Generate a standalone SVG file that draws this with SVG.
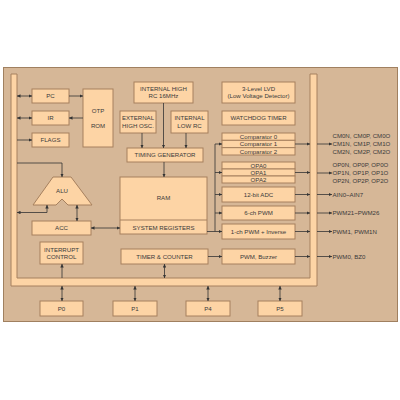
<svg xmlns="http://www.w3.org/2000/svg" width="400" height="400" viewBox="0 0 400 400">
<defs>
<marker id="ah" viewBox="0 0 6 6" markerUnits="userSpaceOnUse" markerWidth="3.5" markerHeight="3.5" refX="6" refY="3" orient="auto-start-reverse"><path d="M0,0 L6,3 L0,6 Z" fill="#333"/></marker>
<style>
.bx{fill:#fdd4a5;stroke:#a6805e;stroke-width:1}
.t{font-family:"Liberation Sans",Arial,sans-serif;font-size:6.1px;fill:#3a3a3a;text-anchor:middle}
.tl{font-family:"Liberation Sans",Arial,sans-serif;font-size:6.1px;fill:#3a3a3a;text-anchor:start}
.c{fill:none;stroke:#333;stroke-width:0.8}
.a{fill:none;stroke:#333;stroke-width:0.8;marker-end:url(#ah)}
.b{fill:none;stroke:#333;stroke-width:0.8;marker-end:url(#ah);marker-start:url(#ah)}
</style>
</defs>
<rect width="400" height="400" fill="#ffffff"/>
<rect x="3.5" y="67.5" width="394" height="254" fill="#d6b797" stroke="#a08060" stroke-width="1"/>
<path id="bus" d="M11,74 H17 V278 H310 V74 H317 V286 H11 Z" class="bx"/>

<g id="pc"><rect class="bx" x="32" y="89" width="37" height="14"/><text class="t" x="50.5" y="98.2">PC</text></g>
<g id="ir"><rect class="bx" x="32" y="111" width="37" height="14"/><text class="t" x="50.5" y="120.2">IR</text></g>
<g id="flags"><rect class="bx" x="32" y="133" width="37" height="14"/><text class="t" x="50.5" y="142.2">FLAGS</text></g>
<g id="otp"><rect class="bx" x="83" y="89" width="30" height="58"/><text class="t" x="98" y="113.2">OTP</text><text class="t" x="98" y="128.2">ROM</text></g>
<g id="alu"><path class="bx" d="M53,177 H71 L92,205 H68 L62,199 L56,205 H33 Z"/><text class="t" x="62" y="192.5">ALU</text></g>
<g id="acc"><rect class="bx" x="32" y="221" width="59" height="14"/><text class="t" x="61.5" y="230.2">ACC</text></g>
<g id="irq"><rect class="bx" x="40" y="242" width="43" height="22"/><text class="t" x="61.5" y="251.5">INTERRUPT</text><text class="t" x="61.5" y="259">CONTROL</text></g>
<g id="p0"><rect class="bx" x="40" y="301" width="43" height="15"/><text class="t" x="61.5" y="310.7">P0</text></g>
<g id="p1"><rect class="bx" x="113" y="301" width="44" height="15"/><text class="t" x="135" y="310.7">P1</text></g>
<g id="p4"><rect class="bx" x="186" y="301" width="44" height="15"/><text class="t" x="208" y="310.7">P4</text></g>
<g id="p5"><rect class="bx" x="258" y="301" width="44" height="15"/><text class="t" x="280" y="310.7">P5</text></g>
<g id="irchigh"><rect class="bx" x="134" y="82" width="59" height="21"/><text class="t" x="163.5" y="91.2">INTERNAL HIGH</text><text class="t" x="163.5" y="98.2">RC 16MHz</text></g>
<g id="extosc"><rect class="bx" x="120" y="111" width="36" height="22"/><text class="t" x="138" y="119.9">EXTERNAL</text><text class="t" x="138" y="127.9">HIGH OSC.</text></g>
<g id="irclow"><rect class="bx" x="171" y="111" width="37" height="22"/><text class="t" x="189.5" y="119.9">INTERNAL</text><text class="t" x="189.5" y="127.9">LOW RC</text></g>
<g id="timing"><rect class="bx" x="127" y="148" width="76" height="14"/><text class="t" x="165" y="157.2">TIMING GENERATOR</text></g>
<g id="ram"><rect class="bx" x="120" y="177" width="87" height="57"/><line x1="120" y1="220" x2="207" y2="220" stroke="#a6805e" stroke-width="1"/><text class="t" x="163.5" y="200.2">RAM</text><text class="t" x="163.5" y="229.7">SYSTEM REGISTERS</text></g>
<g id="timer"><rect class="bx" x="121" y="249" width="87" height="15"/><text class="t" x="164.5" y="258.7">TIMER &amp; COUNTER</text></g>
<g id="lvd"><rect class="bx" x="222" y="82" width="73" height="21"/><text class="t" x="258.5" y="90.5">3-Level LVD</text><text class="t" x="258.5" y="97.5">(Low Voltage Detector)</text></g>
<g id="wdt"><rect class="bx" x="222" y="111" width="73" height="14"/><text class="t" x="258.5" y="120.2">WATCHDOG TIMER</text></g>
<g id="cmp"><rect class="bx" x="222" y="133" width="73" height="7.33"/><rect class="bx" x="222" y="140.33" width="73" height="7.33"/><rect class="bx" x="222" y="147.67" width="73" height="7.33"/><text class="t" x="258.5" y="138.9">Comparator 0</text><text class="t" x="258.5" y="146.2">Comparator 1</text><text class="t" x="258.5" y="153.5">Comparator 2</text></g>
<g id="opa"><rect class="bx" x="222" y="162" width="73" height="7"/><rect class="bx" x="222" y="169" width="73" height="7"/><rect class="bx" x="222" y="176" width="73" height="7"/><text class="t" x="258.5" y="167.6">OPA0</text><text class="t" x="258.5" y="174.6">OPA1</text><text class="t" x="258.5" y="181.6">OPA2</text></g>
<g id="adc"><rect class="bx" x="222" y="187" width="73" height="15"/><text class="t" x="258.5" y="196.7">12-bit ADC</text></g>
<g id="pwm6"><rect class="bx" x="222" y="206" width="73" height="14"/><text class="t" x="258.5" y="215.2">6-ch PWM</text></g>
<g id="pwm1"><rect class="bx" x="222" y="224" width="73" height="15"/><text class="t" x="258.5" y="233.7">1-ch PWM + Inverse</text></g>
<g id="pwmbz"><rect class="bx" x="222" y="249" width="73" height="15"/><text class="t" x="258.5" y="258.7">PWM, Buzzer</text></g>

<g id="labels">
<text class="tl" x="332.5" y="138.2">CM0N, CM0P, CM0O</text>
<text class="tl" x="332.5" y="146.2">CM1N, CM1P, CM1O</text>
<text class="tl" x="332.5" y="154.2">CM2N, CM2P, CM2O</text>
<text class="tl" x="332.5" y="167.2">OP0N, OP0P, OP0O</text>
<text class="tl" x="332.5" y="175.2">OP1N, OP1P, OP1O</text>
<text class="tl" x="332.5" y="183.2">OP2N, OP2P, OP2O</text>
<text class="tl" x="332.5" y="196.7">AIN0~AIN7</text>
<text class="tl" x="332.5" y="215.2">PWM21~PWM26</text>
<text class="tl" x="332.5" y="233.7">PWM1, PWM1N</text>
<text class="tl" x="332.5" y="258.7">PWM0, BZ0</text>
</g>

<g id="connectors">
<line class="b" x1="17" y1="96" x2="32" y2="96"/>
<line class="b" x1="17" y1="118" x2="32" y2="118"/>
<line class="a" x1="17" y1="140" x2="32" y2="140"/>
<line class="a" x1="69" y1="96" x2="83" y2="96"/>
<line class="a" x1="83" y1="118" x2="69" y2="118"/>
<polyline class="a" points="17,163 62,163 62,177"/>
<polyline class="b" points="47,205 47,212.5 17,212.5"/>
<line class="b" x1="77" y1="205" x2="77" y2="221"/>
<line class="b" x1="91" y1="228" x2="120" y2="228"/>
<line class="a" x1="62" y1="278" x2="62" y2="264"/>
<line class="b" x1="164.5" y1="264" x2="164.5" y2="278"/>
<line class="b" x1="62" y1="286" x2="62" y2="301"/>
<line class="b" x1="135" y1="286" x2="135" y2="301"/>
<line class="b" x1="208" y1="286" x2="208" y2="301"/>
<line class="b" x1="280" y1="286" x2="280" y2="301"/>
<line class="a" x1="142" y1="133" x2="142" y2="148"/>
<line class="a" x1="163.5" y1="103" x2="163.5" y2="148"/>
<line class="a" x1="186" y1="133" x2="186" y2="148"/>
<line class="a" x1="164" y1="162" x2="164" y2="177"/>
<line class="c" x1="215" y1="144" x2="215" y2="231.5"/>
<line class="a" x1="215" y1="144" x2="222" y2="144"/>
<line class="a" x1="215" y1="172.5" x2="222" y2="172.5"/>
<line class="a" x1="215" y1="194.5" x2="222" y2="194.5"/>
<line class="a" x1="215" y1="213" x2="222" y2="213"/>
<line class="a" x1="207" y1="231.5" x2="222" y2="231.5"/>
<line class="a" x1="208" y1="256.5" x2="222" y2="256.5"/>
<line class="a" x1="295" y1="144" x2="310" y2="144"/>
<line class="a" x1="295" y1="172.5" x2="310" y2="172.5"/>
<line class="a" x1="295" y1="194.5" x2="310" y2="194.5"/>
<line class="a" x1="295" y1="213" x2="310" y2="213"/>
<line class="a" x1="295" y1="231.5" x2="310" y2="231.5"/>
<line class="a" x1="295" y1="256.5" x2="310" y2="256.5"/>
<line class="a" x1="317" y1="144" x2="332" y2="144"/>
<line class="a" x1="317" y1="173" x2="332" y2="173"/>
<line class="a" x1="317" y1="194.5" x2="332" y2="194.5"/>
<line class="a" x1="317" y1="213" x2="332" y2="213"/>
<line class="a" x1="317" y1="231.5" x2="332" y2="231.5"/>
<line class="a" x1="317" y1="256.5" x2="332" y2="256.5"/>
</g>
</svg>
